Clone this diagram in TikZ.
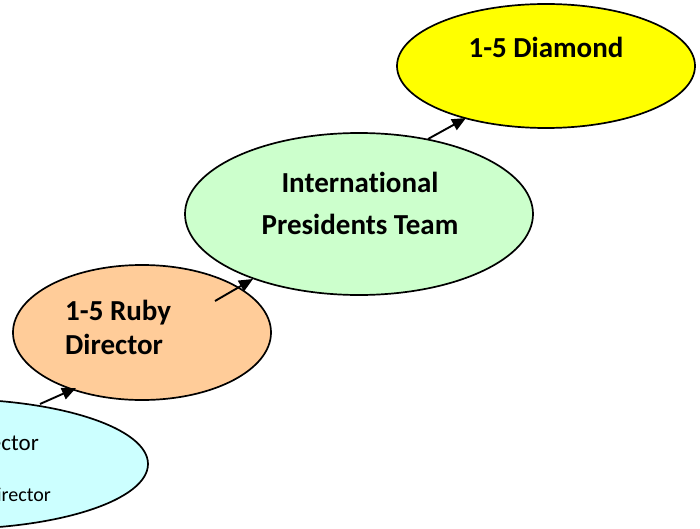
\documentclass[tikz,border=0pt]{standalone}
\usepackage{fontspec}
\setmainfont[Ligatures=NoCommon]{Carlito}
\usetikzlibrary{shapes.geometric,arrows.meta}
\definecolor{gold}{HTML}{FFFF00}
\definecolor{mint}{HTML}{CCFFCC}
\definecolor{peach}{HTML}{FFCC99}
\definecolor{ice}{HTML}{CCFFFF}
\tikzset{
  rank/.style={ellipse, draw=black, line width=1.7pt, inner sep=0pt},
  title/.style={inner sep=0pt, font=\bfseries\fontsize{29}{41.5}\selectfont},
  plain/.style={inner sep=0pt},
  climb/.style={line width=1.9pt, -{Triangle[length=14pt,width=12pt]}}
}
\begin{document}
\begin{tikzpicture}[x=1pt,y=-1pt]
\useasboundingbox (0,0) rectangle (700,529);
\clip (0,0) rectangle (700,529);

% rank ellipses, lowest first
\node[rank, fill=ice,   minimum width=396pt, minimum height=130pt] (dir)   at (-50,464) {};
\node[rank, fill=peach, minimum width=258pt, minimum height=135pt] (ruby)  at (142,332.5) {};
\node[rank, fill=mint,  minimum width=348pt, minimum height=162pt] (ipt)   at (359,214) {};
\node[rank, fill=gold,  minimum width=298pt, minimum height=124pt] (diam)  at (546,66) {};

% labels
\node[plain, anchor=base east, font=\fontsize{23}{28}\selectfont] (dirA) at (39,450.7) {Director};
\node[plain, anchor=base east, font=\fontsize{20}{24}\selectfont] (dirB) at (51,501) {Director};
\node[title, anchor=base west] (rubyA) at (65,320.7) {1-5 Ruby};
\node[title, anchor=base west] (rubyB) at (65,354) {Director};
\node[title, anchor=base] (iptA) at (360,192.7) {International};
\node[title, anchor=base] (iptB) at (360,234) {Presidents Team};
\node[title, anchor=base] (diamA) at (546,57.7) {1-5 Diamond};

% connector ends
\coordinate (s1) at (40,404);  \coordinate (t1) at (76,388);
\coordinate (s2) at (215,301); \coordinate (t2) at (253,279);
\coordinate (s3) at (428,139); \coordinate (t3) at (466,118);

\draw[climb] (s1) -- (t1);
\draw[climb] (s2) -- (t2);
\draw[climb] (s3) -- (t3);
\end{tikzpicture}
\end{document}
